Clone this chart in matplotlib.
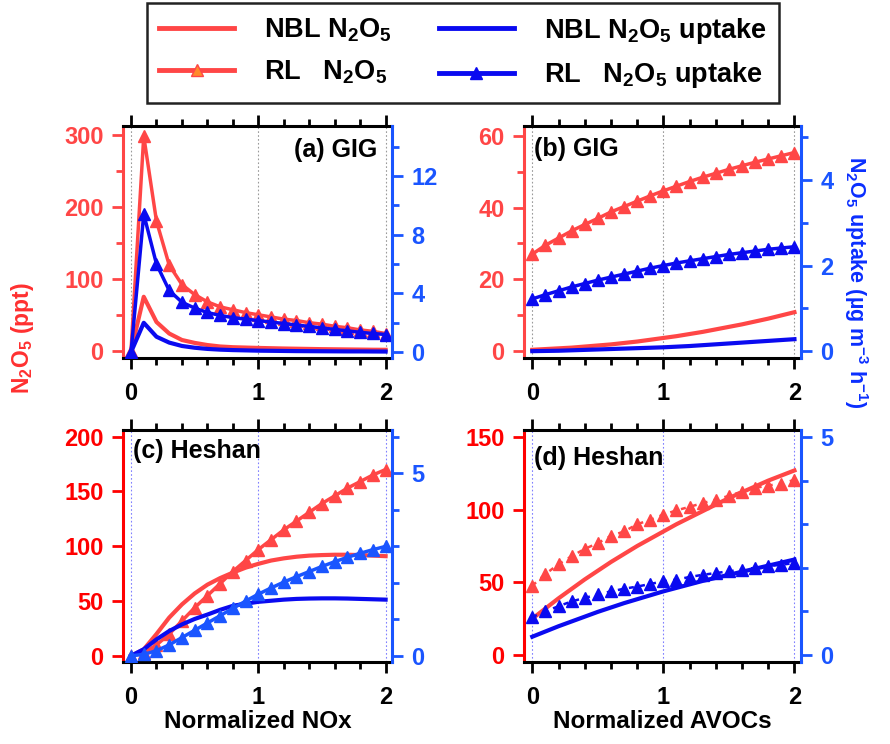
import matplotlib

matplotlib.use("Agg")
import matplotlib.pyplot as plt  # noqa: E402
from matplotlib.lines import Line2D  # noqa: E402
from matplotlib.ticker import MultipleLocator  # noqa: E402

plt.rcParams["font.family"] = ["Liberation Sans", "DejaVu Sans"]
plt.rcParams["font.weight"] = "bold"
plt.rcParams["mathtext.fontset"] = "custom"
plt.rcParams["mathtext.rm"] = "Liberation Sans:bold"
plt.rcParams["mathtext.it"] = "Liberation Sans:bold"
plt.rcParams["mathtext.bf"] = "Liberation Sans:bold"
plt.rcParams["mathtext.default"] = "rm"

# normalized emission factor (x axis, same for all panels)
x_vals = [0.0, 0.1, 0.2, 0.3, 0.4, 0.5, 0.6, 0.7, 0.8, 0.9, 1.0,
          1.1, 1.2, 1.3, 1.4, 1.5, 1.6, 1.7, 1.8, 1.9, 2.0]

# (a) GIG vs NOx
a_nbl_n2o5 = [0, 75, 40, 24, 15, 11, 8, 6, 5, 4.5, 4, 3.6, 3.2, 2.9, 2.6, 2.3, 2.1, 1.9, 1.7, 1.5, 1.4]
a_rl_n2o5 = [0, 298, 180, 119, 92, 78, 68, 61, 57, 53, 50, 47, 44, 42, 39, 37, 34, 32, 29, 27, 24]
a_nbl_up = [0, 2.0, 1.05, 0.65, 0.42, 0.3, 0.22, 0.17, 0.14, 0.12, 0.1, 0.09, 0.08, 0.07,
            0.065, 0.06, 0.055, 0.05, 0.05, 0.045, 0.04]
a_rl_up = [0, 9.4, 6.0, 4.2, 3.4, 3.0, 2.7, 2.5, 2.35, 2.25, 2.15, 2.05, 1.95, 1.85, 1.75,
           1.65, 1.55, 1.45, 1.35, 1.27, 1.2]

# (b) GIG vs AVOCs
b_nbl_n2o5 = [0.3, 0.5, 0.7, 0.9, 1.2, 1.5, 1.8, 2.2, 2.6, 3.1, 3.6, 4.1, 4.7, 5.3, 6.0, 6.7,
              7.4, 8.2, 9.0, 9.9, 10.8]
b_rl_n2o5 = [27, 29.5, 31.5, 33.5, 35.3, 37, 38.8, 40.3, 41.8, 43.3, 44.7, 46, 47.3, 48.5,
             49.6, 50.7, 51.7, 52.7, 53.6, 54.5, 55.4]
b_nbl_up = [0, 0.005, 0.01, 0.02, 0.03, 0.04, 0.05, 0.06, 0.07, 0.08, 0.09, 0.105, 0.12,
            0.14, 0.16, 0.18, 0.2, 0.22, 0.24, 0.26, 0.28]
b_rl_up = [1.22, 1.32, 1.41, 1.5, 1.58, 1.66, 1.73, 1.8, 1.87, 1.94, 2.0, 2.06, 2.11, 2.16,
           2.21, 2.26, 2.3, 2.34, 2.38, 2.41, 2.44]

# (c) Heshan vs NOx
c_nbl_n2o5 = [0, 6, 20, 35, 47, 57, 65, 71, 76, 80.5, 84, 87, 89, 90.5, 91.5, 92, 92.3,
              92.3, 92, 91.5, 91]
c_rl_n2o5 = [0, 3, 10, 20, 32, 44, 55, 66, 77, 87, 97, 106, 115, 123, 131, 139, 146, 153,
             159, 165, 170]
c_nbl_up = [0, 0.18, 0.45, 0.68, 0.86, 1.01, 1.13, 1.26, 1.37, 1.43, 1.48, 1.51, 1.54,
            1.56, 1.57, 1.575, 1.575, 1.57, 1.56, 1.55, 1.54]
c_rl_up = [0, 0.04, 0.14, 0.3, 0.5, 0.7, 0.9, 1.1, 1.3, 1.5, 1.69, 1.86, 2.02, 2.17, 2.31,
           2.45, 2.58, 2.7, 2.81, 2.91, 3.0]

# (d) Heshan vs AVOCs
d_nbl_n2o5 = [25, 32, 39, 45.5, 52, 58, 64, 69.5, 75, 80, 85, 90, 94.5, 99, 103.5, 108,
              112, 116, 120, 123.5, 127]
d_rl_n2o5 = [47.7, 55.7, 62.5, 68, 73, 77, 82, 85, 90, 93, 96.6, 99.5, 102, 104.5, 107,
             109.5, 112.5, 115, 116.6, 118, 120.5]
d_nbl_up = [0.42, 0.54, 0.66, 0.77, 0.88, 0.99, 1.09, 1.19, 1.28, 1.37, 1.46, 1.54, 1.62,
            1.70, 1.77, 1.84, 1.91, 1.98, 2.05, 2.12, 2.19]
d_rl_up = [0.87, 1.0, 1.12, 1.23, 1.31, 1.39, 1.46, 1.52, 1.57, 1.63, 1.69, 1.73, 1.79,
           1.84, 1.88, 1.92, 1.96, 2.0, 2.04, 2.07, 2.11]

RED = "#ff4646"
BLUE = "#0a0af0"
AXBLUE = "#1a55ff"
FS = 17

fig = plt.figure(figsize=(8.9, 7.44), dpi=100)

panels = [
    dict(rect=[0.1382, 0.5188, 0.3022, 0.3118],
         data=(a_nbl_n2o5, a_rl_n2o5, a_nbl_up, a_rl_up),
         ylim=(-10, 312), ymaj=100, ymin=50, rlim=(-0.4, 15.4), rmaj=4, rmin=2,
         label="(a) GIG", lpos=(0.944, 0.895), ha="right", spine=RED, grid="#9a9a9a",
         rl_blue=BLUE, rl_ls="-", xlabel=None),
    dict(rect=[0.5888, 0.5188, 0.3112, 0.3118],
         data=(b_nbl_n2o5, b_rl_n2o5, b_nbl_up, b_rl_up),
         ylim=(-2, 62.8), ymaj=20, ymin=10, rlim=(-0.16, 5.26), rmaj=2, rmin=1,
         label="(b) GIG", lpos=(0.036, 0.90), ha="left", spine=RED, grid="#9a9a9a",
         rl_blue=BLUE, rl_ls="-", xlabel=None),
    dict(rect=[0.1382, 0.1102, 0.3022, 0.3118],
         data=(c_nbl_n2o5, c_rl_n2o5, c_nbl_up, c_rl_up),
         ylim=(-5.5, 206), ymaj=50, ymin=None, rlim=(-0.17, 6.19), rmaj=5, rmin=1,
         label="(c) Heshan", lpos=(0.037, 0.91), ha="left", spine="#ff0000", grid="#8080ff",
         rl_blue=AXBLUE, rl_ls="-", xlabel="Normalized NOx"),
    dict(rect=[0.5888, 0.1102, 0.3112, 0.3118],
         data=(d_nbl_n2o5, d_rl_n2o5, d_nbl_up, d_rl_up),
         ylim=(-4.8, 154.8), ymaj=50, ymin=None, rlim=(-0.16, 5.16), rmaj=5, rmin=1,
         label="(d) Heshan", lpos=(0.036, 0.88), ha="left", spine="#ff0000", grid="#8080ff",
         rl_blue=BLUE, rl_ls=(0, (2, 2.5)), xlabel="Normalized AVOCs"),
]

for p in panels:
    nbl_n, rl_n, nbl_u, rl_u = p["data"]
    ax = fig.add_axes(p["rect"])
    axr = ax.twinx()

    for xv in (0, 1, 2):
        ax.axvline(xv, color=p["grid"], lw=0.8, ls=(0, (1.5, 2)), zorder=0)

    ax.plot(x_vals, nbl_n, color=RED, lw=3)
    ax.plot(x_vals, rl_n, color=RED, lw=2.5 if p["rl_ls"] == "-" else 1.8,
            ls=p["rl_ls"], marker="^", ms=8)
    axr.plot(x_vals, nbl_u, color=BLUE, lw=3)
    axr.plot(x_vals, rl_u, color=p["rl_blue"], lw=2.5 if p["rl_ls"] == "-" else 1.8,
             ls=p["rl_ls"], marker="^", ms=8)

    ax.set_xlim(-0.063, 2.05)
    ax.set_ylim(*p["ylim"])
    axr.set_ylim(*p["rlim"])

    ax.xaxis.set_major_locator(MultipleLocator(1))
    ax.xaxis.set_minor_locator(MultipleLocator(0.2))
    ax.yaxis.set_major_locator(MultipleLocator(p["ymaj"]))
    if p["ymin"]:
        ax.yaxis.set_minor_locator(MultipleLocator(p["ymin"]))
    axr.yaxis.set_major_locator(MultipleLocator(p["rmaj"]))
    axr.yaxis.set_minor_locator(MultipleLocator(p["rmin"]))

    for a in (ax, axr):
        for s in a.spines.values():
            s.set_linewidth(2.2)
    ax.spines["right"].set_visible(False)
    ax.spines["left"].set_color(p["spine"])
    for side in ("left", "top", "bottom"):
        axr.spines[side].set_visible(False)
    axr.spines["right"].set_color(AXBLUE)

    ax.tick_params(axis="x", which="both", top=True, bottom=True, direction="out",
                   width=2, color="black", labelsize=FS, labelcolor="black", pad=9)
    ax.tick_params(axis="x", which="major", length=8)
    ax.tick_params(axis="x", which="minor", length=5)
    ax.tick_params(axis="y", which="both", direction="out", width=2, color=p["spine"],
                   labelsize=FS, labelcolor=p["spine"], pad=6)
    ax.tick_params(axis="y", which="major", length=8)
    ax.tick_params(axis="y", which="minor", length=5)
    axr.tick_params(axis="y", which="both", direction="out", width=2, color=AXBLUE,
                    labelsize=FS, labelcolor=AXBLUE, pad=6)
    axr.tick_params(axis="y", which="major", length=8)
    axr.tick_params(axis="y", which="minor", length=5)

    ax.text(p["lpos"][0], p["lpos"][1], p["label"], transform=ax.transAxes,
            ha=p["ha"], va="center", fontsize=18, fontweight="bold", zorder=5)
    if p["xlabel"]:
        ax.set_xlabel(p["xlabel"], fontsize=17.5, fontweight="bold", labelpad=1)

fig.text(0.025, 0.546, r"N$_2$O$_5$ (ppt)", rotation=90, ha="center", va="center",
         fontsize=16.5, color="#ff3030", fontweight="bold")
fig.text(0.962, 0.62, r"N$_2$O$_5$ uptake (µg m$^{-3}$ h$^{-1}$)", rotation=-90,
         ha="center", va="center", fontsize=15.5, color="#0a2eff", fontweight="bold")

handles = [
    Line2D([], [], color=RED, lw=3.5),
    Line2D([], [], color=RED, lw=3.5, marker="^", ms=8, mfc="#ff8a2a"),
    Line2D([], [], color=BLUE, lw=3.5),
    Line2D([], [], color=BLUE, lw=3.5, marker="^", ms=8),
]
labels = [r"NBL N$_2$O$_5$", r"RL   N$_2$O$_5$",
          r"NBL N$_2$O$_5$ uptake", r"RL   N$_2$O$_5$ uptake"]
leg = fig.legend(handles, labels, ncol=2, loc="center", bbox_to_anchor=(0.5202, 0.9288),
                 fontsize=19.5, handlelength=2.77, handletextpad=1.1, columnspacing=1.73,
                 labelspacing=0.55, borderpad=0.45, fancybox=False, framealpha=1)
leg.get_frame().set_edgecolor("#222222")
leg.get_frame().set_linewidth(1.8)

fig.savefig("out.png", dpi=100)
